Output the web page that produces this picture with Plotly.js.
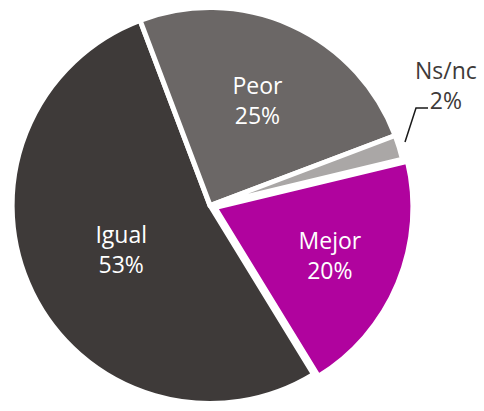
<!DOCTYPE html>
<html>
<head>
<meta charset="utf-8">
<script src="https://cdn.plot.ly/plotly-3.0.1.min.js"></script>
<style>html,body{margin:0;padding:0;background:#fff;}#chart{width:484px;height:411px;}</style>
</head>
<body>
<div id="chart"></div>
<script>
const labels = ['Mejor', 'Igual', 'Peor', 'Ns/nc'];
const values = [20, 53, 25, 2];
const colors = ['#b0039e', '#3e3a39', '#6b6766', '#aaa7a6'];
const pulls = [0.027, 0, 0, 0];
const insideText = labels.map((l, i) => i === 3 ? '' : l + '<br>' + values[i] + '%');
const outsideLabel = labels[3] + '<br>' + values[3] + '%';

const W = 484, H = 411;
const px = x => x / W, py = y => 1 - y / H;

const trace = {
  type: 'pie',
  labels: labels,
  values: values,
  text: insideText,
  textinfo: 'text',
  textposition: 'inside',
  insidetextorientation: 'horizontal',
  sort: false,
  direction: 'clockwise',
  rotation: 76.5,
  pull: pulls,
  marker: {colors: colors, line: {color: '#ffffff', width: 5}},
  textfont: {family: 'Open Sans, sans-serif', size: 23, color: '#ffffff'},
  hoverinfo: 'none',
  domain: {x: [0.014, 0.854], y: [0, 1]}
};

const layout = {
  width: W, height: H,
  margin: {l: 0, r: 0, t: 0, b: 0},
  showlegend: false,
  paper_bgcolor: '#ffffff',
  annotations: [{
    xref: 'paper', yref: 'paper',
    x: px(446), y: py(85),
    text: outsideLabel,
    showarrow: false,
    font: {family: 'Open Sans, sans-serif', size: 23, color: '#3e3a39'},
    xanchor: 'center', yanchor: 'middle'
  }],
  shapes: [{
    type: 'path', xref: 'paper', yref: 'paper',
    path: 'M ' + px(405) + ' ' + py(142) + ' L ' + px(416) + ' ' + py(108) + ' L ' + px(428) + ' ' + py(108),
    line: {color: '#1a1a1a', width: 1.5}
  }]
};

Plotly.newPlot('chart', [trace], layout, {displayModeBar: false, staticPlot: true});
</script>
</body>
</html>
